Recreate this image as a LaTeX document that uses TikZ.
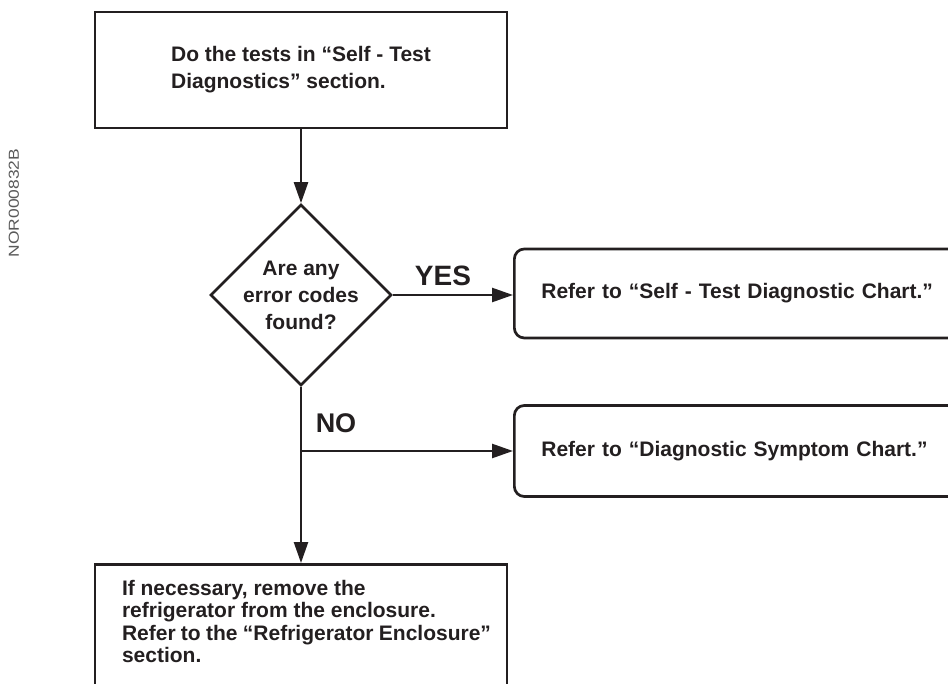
\documentclass[tikz,border=0pt]{standalone}
\usepackage{fontspec}
\setmainfont{Liberation Sans}
\usetikzlibrary{shapes.geometric,arrows.meta}
\definecolor{ink}{HTML}{231F20}
\begin{document}
\begin{tikzpicture}[x=1pt,y=-1pt,
  boxtext/.style={font=\fontsize{21}{27}\selectfont\bfseries, text=ink},
  sqbox/.style={draw=ink, line width=2.7pt, boxtext},
  rbox/.style={draw=ink, line width=2.7pt, rounded corners=10pt, boxtext, align=left,
    anchor=west, text width=460pt, inner xsep=27pt, inner ysep=0pt},
  conn/.style={draw=ink, line width=2.5pt, -{Triangle[length=21pt,width=14pt]}},
  lbl/.style={text=ink, inner sep=0pt}]
\useasboundingbox (0,0) rectangle (948,684);
\clip (0,0) rectangle (948,684);
\node[sqbox, align=left, minimum width=412pt, minimum height=116pt, inner sep=0pt]
  (top) at (301,70) {Do the tests in “Self - Test\\Diagnostics” section.};
\node[draw=ink, line width=2.7pt, diamond, shape aspect=1, minimum width=181pt,
  minimum height=181pt, inner sep=-3pt, boxtext, align=center]
  (dia) at (301,295) {Are any\\error codes\\found?};
\node[rbox, minimum height=89pt] (r1) at (513,293.5) {Refer to “Self - Test Diagnostic Chart.”};
\node[rbox, minimum height=91pt] (r2) at (513,451) {Refer to “Diagnostic Symptom Chart.”};
\node[sqbox, anchor=north, inner xsep=16pt, inner ysep=16pt] (bot) at (301,563)
  {\parbox[t][150pt][t]{380pt}{\fontsize{21}{22.3}\selectfont\bfseries\raggedright\leftskip=11pt
   If necessary, remove the\\refrigerator from the enclosure.\\Refer to the “Refrigerator Enclosure”\\section.}};
\draw[conn] (top.south) -- (dia.north);
\draw[conn] (dia.east) -- (dia.east -| r1.west);
\draw[conn] (dia.south) -- (bot.north);
\coordinate (nj) at (dia.south |- r2.west);
\draw[conn] (nj) -- (r2.west);
\node[lbl, font=\fontsize{28}{28}\selectfont\bfseries] (yes) at (443,276) {YES};
\node[lbl, font=\fontsize{27}{27}\selectfont\bfseries] (no) at (336,423) {NO};
\node[rotate=90, text=black!65, inner sep=0pt, font=\fontsize{14.5}{14.5}\selectfont]
  (code) at (14,203) {\scalebox{1.2}[1]{NOR000832B}};
\end{tikzpicture}
\end{document}
